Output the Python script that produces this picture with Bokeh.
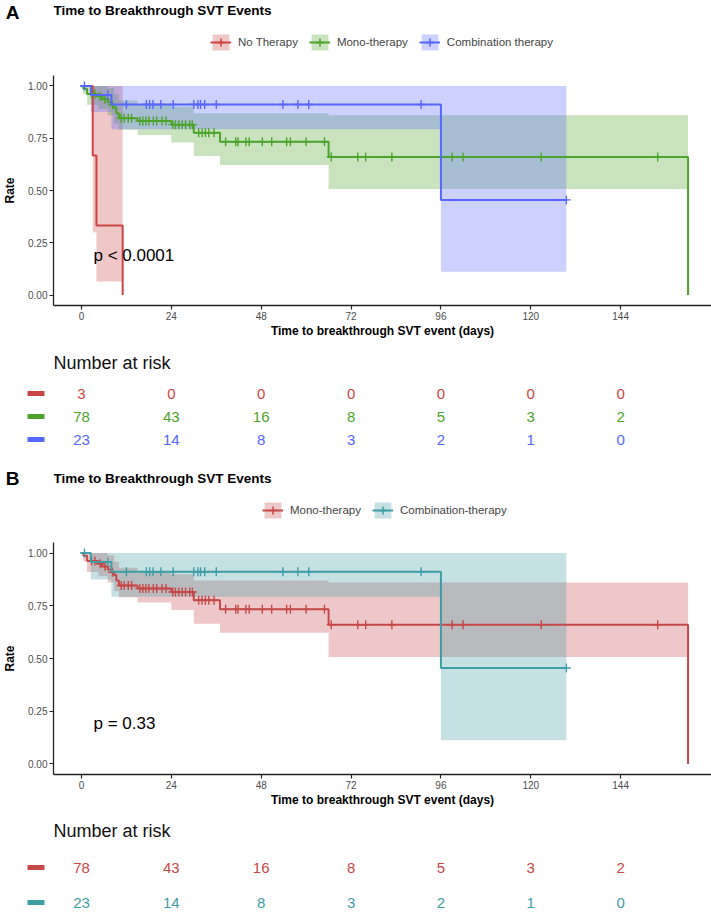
import numpy as np
from bokeh.plotting import figure
from bokeh.models import (Range1d, FixedTicker, Legend, LegendItem, ColumnDataSource,
                          NumeralTickFormatter, Label)
from bokeh.layouts import column
from bokeh.embed import file_html
from bokeh.resources import INLINE
from bokeh.core.properties import value

# ---------------- data ----------------
x_ticks = [0, 24, 48, 72, 96, 120, 144]
y_ticks = [0.0, 0.25, 0.50, 0.75, 1.00]
risk_times = [0, 24, 48, 72, 96, 120, 144]

# No therapy
none_t = [0, 3, 4, 11]
none_s = [1.0, 0.667, 0.333, 0.0]
none_ci_t = [3, 4, 11]
none_ci_lo = [0.30, 0.065, 0.065]
none_ci_hi = [1.0, 1.0, 1.0]
none_censor = []
risk_none = [3, 0, 0, 0, 0, 0, 0]

# Mono-therapy
mono_t = [0, 0.5, 1.5, 4.5, 5.5, 7, 8, 8.7, 9.3, 10, 15, 24, 30, 37, 66, 162]
mono_s = [1.0, 0.987, 0.962, 0.949, 0.936, 0.922, 0.909, 0.896, 0.870, 0.846, 0.832, 0.815, 0.776, 0.733, 0.66, 0.0]
mono_ci_t = [0.5, 1.5, 4.5, 7, 8.7, 10, 15, 24, 30, 37, 66, 162]
mono_ci_lo = [0.96, 0.91, 0.89, 0.86, 0.82, 0.79, 0.765, 0.73, 0.665, 0.622, 0.507, 0.507]
mono_ci_hi = [1.0, 1.0, 1.0, 0.99, 0.96, 0.93, 0.91, 0.90, 0.87, 0.87, 0.86, 0.86]
mono_censor = [2.7, 3.6, 5.0, 6.3, 8.3,
               10.6, 11.4, 12.5, 13.4,
               15.6, 16.4, 17.2, 18.0, 19.2, 20.1, 21.5, 22.6,
               24.4, 25.1, 26.0, 26.9, 27.8, 28.9, 29.6,
               31.3, 32.2, 33.1, 34.0, 35.4,
               38.5, 41.2, 41.8, 43.9, 44.8, 48.3, 50.8, 54.8, 55.8, 60.0, 64.9,
               66.7, 73.8, 75.9, 82.9, 99.0, 101.9, 122.8, 153.9]
risk_mono = [78, 43, 16, 8, 5, 3, 2]

# Combination therapy
comb_t = [0, 2.5, 8, 96, 129.5]
comb_s = [1.0, 0.957, 0.911, 0.455, 0.455]
comb_ci_t = [2.5, 8, 96, 129.5]
comb_ci_lo = [0.875, 0.793, 0.112, 0.112]
comb_ci_hi = [1.0, 1.0, 1.0, 1.0]
comb_censor = [0.8, 7.0, 12.0, 17.3, 18.2, 19.1, 21.2, 24.5, 30.0, 31.1, 31.8, 32.9, 36.0,
               53.8, 57.8, 60.7, 90.7, 129.5]
risk_comb = [23, 14, 8, 3, 2, 1, 0]

p_text_A = "p < 0.0001"
p_text_B = "p = 0.33"
p_pos = (3.2, 0.19)

# ---------------- styling / layout ----------------
FONT = "Liberation Sans"
W = 711
L = 52                      # left border shared by every figure (frames align)
X0 = -7.47
X1 = X0 + (W - L) / 3.75
Y0, Y1 = -0.05, 1.05

A_RED, A_GREEN, A_BLUE = "#CC4545", "#4DA32B", "#5667FF"
B_RED, B_TEAL = "#C64848", "#3F9DA5"


def surv_at(t, s, tc):
    t = np.asarray(t, float)
    s = np.asarray(s, float)
    idx = np.searchsorted(t, np.asarray(tc, float), side="right") - 1
    return s[idx]


def blank(height, xr, yr, left_axis=False):
    f = figure(width=W, height=height, x_range=xr, y_range=yr,
               x_axis_location=None, y_axis_location=("left" if left_axis else None),
               min_border_left=L, min_border_right=0, min_border_top=0, min_border_bottom=0,
               output_backend="svg", toolbar_location=None)
    f.grid.visible = False
    f.outline_line_color = None
    return f


def side_axis(f, ypos):
    ax = f.yaxis[0]
    ax.ticker = FixedTicker(ticks=[ypos])
    ax.axis_line_color = None
    ax.minor_tick_line_color = None
    ax.major_label_text_baseline = "middle"
    return ax


def header(letter, title, groups, height, letter_y, title_y, legend_x, legend_bottom):
    h = blank(height, Range1d(L, W), Range1d(height, 0), left_axis=True)
    ax = side_axis(h, letter_y)           # the panel letter sits in the left margin
    ax.major_label_overrides = {letter_y: letter}
    ax.major_tick_line_color = None
    ax.major_tick_out = 0
    ax.major_tick_in = 0
    ax.major_label_standoff = 34
    ax.major_label_text_font = FONT
    ax.major_label_text_font_size = "19px"
    ax.major_label_text_font_style = "bold"
    ax.major_label_text_color = "black"
    h.add_layout(Label(x=L, y=title_y, text=title, text_font=FONT, text_font_size="13.5px",
                       text_font_style="bold", text_baseline="middle", text_color="black"))
    items = []
    for name, color in groups:
        # legend keys only: the sample lies outside the visible range
        src = ColumnDataSource(dict(x=[-200, -190], y=[-50, -50], y1=[-60, -60], y2=[-40, -40]))
        r1 = h.varea(x="x", y1="y1", y2="y2", source=src, fill_color=color, fill_alpha=0.3)
        r2 = h.line(x="x", y="y", source=src, line_color=color, line_width=2)
        r3 = h.scatter(x="x", y="y", source=src, marker="cross", size=9, line_color=color, line_width=1.5)
        items.append(LegendItem(label=name, renderers=[r1, r2, r3]))
    leg = Legend(items=items, orientation="horizontal", location=(legend_x - L, legend_bottom),
                 glyph_width=21, glyph_height=20, label_standoff=7, spacing=11,
                 padding=0, margin=0, border_line_color=None, background_fill_alpha=0,
                 label_text_font=FONT, label_text_font_size="11.5px", label_height=20)
    h.add_layout(leg, "center")
    return h


def km(series, frame_h, ptext):
    p = figure(width=W, height=frame_h + 35, x_range=Range1d(X0, X1), y_range=Range1d(Y0, Y1),
               min_border_left=L, min_border_right=0, min_border_top=0, min_border_bottom=35,
               output_backend="svg", toolbar_location=None)
    p.grid.visible = False
    p.outline_line_color = None
    for (t, s, ct, lo, hi, cens, color) in series:
        p.varea_step(x=ct, y1=lo, y2=hi, step_mode="after", fill_color=color, fill_alpha=0.3)
    for (t, s, ct, lo, hi, cens, color) in series:
        p.step(x=t, y=s, mode="after", line_color=color, line_width=2)
        if len(cens):
            p.scatter(x=cens, y=surv_at(t, s, cens), marker="cross", size=9,
                      line_color=color, line_width=1.4)
    p.text(x=[p_pos[0]], y=[p_pos[1]], text=[ptext], text_font=value(FONT), text_font_size="17px",
           text_baseline="middle", text_align="left", text_color="black")
    xa, ya = p.xaxis[0], p.yaxis[0]
    xa.ticker = FixedTicker(ticks=x_ticks)
    ya.ticker = FixedTicker(ticks=y_ticks)
    ya.formatter = NumeralTickFormatter(format="0.00")
    for ax in (xa, ya):
        ax.axis_line_color = "#222222"
        ax.axis_line_width = 1.3
        ax.major_tick_line_color = "#222222"
        ax.major_tick_line_width = 1.2
        ax.major_tick_out = 4
        ax.major_tick_in = 0
        ax.minor_tick_line_color = None
        ax.major_label_text_font = FONT
        ax.major_label_text_font_size = "10px"
        ax.major_label_text_color = "#4D4D4D"
        ax.major_label_standoff = 2
        ax.axis_label_text_font = FONT
        ax.axis_label_text_font_style = "bold"
        ax.axis_label_text_font_size = "12px"
        ax.axis_label_text_color = "black"
    xa.axis_label = "Time to breakthrough SVT event (days)"
    xa.axis_label_standoff = 1
    ya.axis_label = "Rate"
    ya.axis_label_standoff = 8
    return p


def risk_block(rows, title_h, title_y, row_hs, row_ys):
    figs = []
    t = blank(title_h, Range1d(X0, X1), Range1d(title_h, 0))
    t.add_layout(Label(x=X0, y=title_y, text="Number at risk", text_font=FONT,
                       text_font_size="18px", text_baseline="middle", text_color="#111111"))
    figs.append(t)
    for (vals, color), hh, yy in zip(rows, row_hs, row_ys):
        r = blank(hh, Range1d(X0, X1), Range1d(hh, 0), left_axis=True)
        ax = side_axis(r, yy)             # the row's colour key is the axis tick
        ax.major_label_overrides = {yy: ""}
        ax.major_tick_in = -9
        ax.major_tick_out = 26
        ax.major_tick_line_width = 5
        ax.major_tick_line_color = color
        ax.major_tick_line_cap = "butt"
        r.text(x=risk_times, y=[yy] * len(risk_times), text=[str(v) for v in vals],
               text_font=value(FONT), text_font_size="15px", text_align="center",
               text_baseline="middle", text_color=color)
        figs.append(r)
    return figs


hA = header("A", "Time to Breakthrough SVT Events",
            [("No Therapy", A_RED), ("Mono-therapy", A_GREEN), ("Combination therapy", A_BLUE)],
            75, 12, 10, 209, 23)
kA = km([(none_t, none_s, none_ci_t, none_ci_lo, none_ci_hi, none_censor, A_RED),
         (mono_t, mono_s, mono_ci_t, mono_ci_lo, mono_ci_hi, mono_censor, A_GREEN),
         (comb_t, comb_s, comb_ci_t, comb_ci_lo, comb_ci_hi, comb_censor, A_BLUE)], 230, p_text_A)
rA = risk_block([(risk_none, A_RED), (risk_mono, A_GREEN), (risk_comb, A_BLUE)],
                41, 22, [23, 23, 23], [12, 12, 12])

hB = header("B", "Time to Breakthrough SVT Events",
            [("Mono-therapy", B_RED), ("Combination-therapy", B_TEAL)],
            92, 28, 28, 261, 22)
kB = km([(mono_t, mono_s, mono_ci_t, mono_ci_lo, mono_ci_hi, mono_censor, B_RED),
         (comb_t, comb_s, comb_ci_t, comb_ci_lo, comb_ci_hi, comb_censor, B_TEAL)], 232, p_text_B)
rB = risk_block([(risk_mono, B_RED), (risk_comb, B_TEAL)], 41, 21, [35, 26], [17, 17])

layout = column(hA, kA, *rA, hB, kB, *rB, spacing=0)
open("out.html", "w").write(file_html(layout, INLINE))
